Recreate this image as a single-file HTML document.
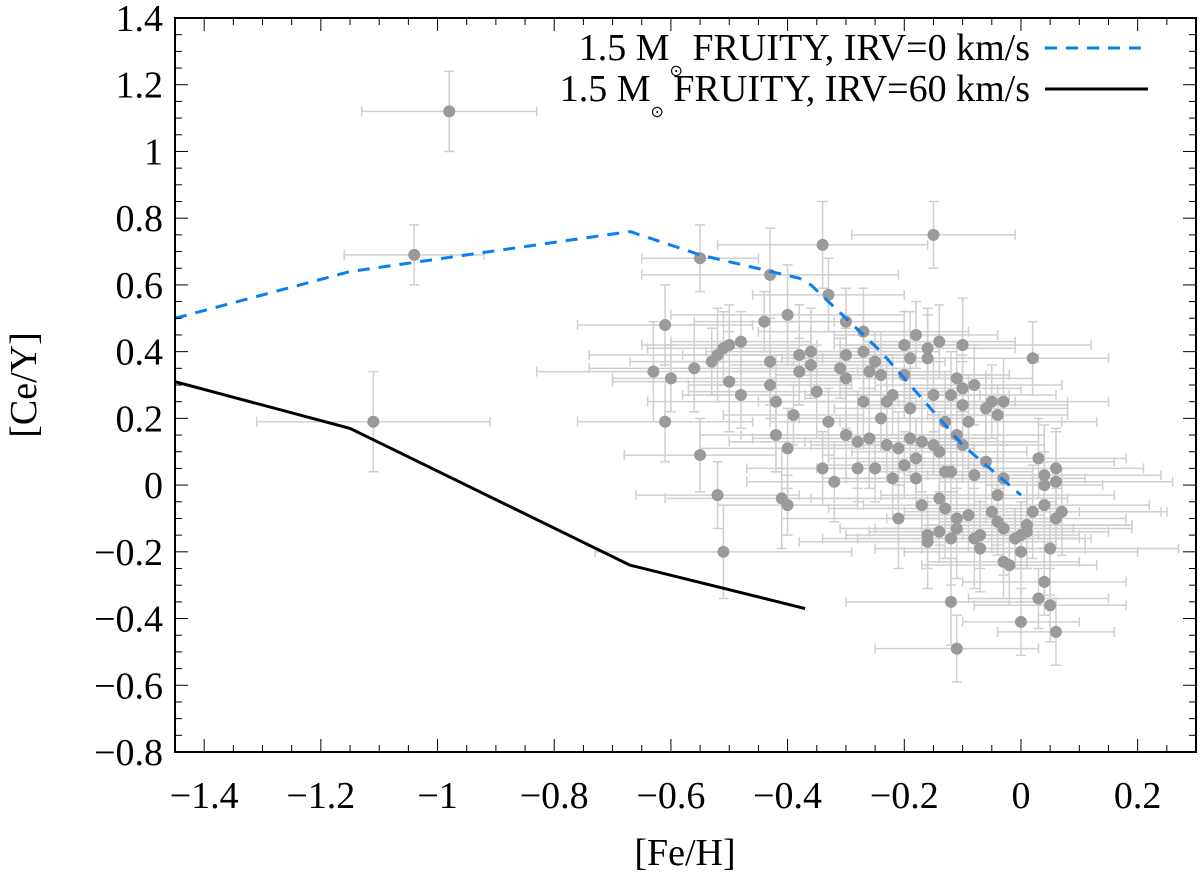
<!DOCTYPE html>
<html><head><meta charset="utf-8"><style>
html,body{margin:0;padding:0;background:#fff;}
svg{display:block;font-family:"Liberation Serif","Times New Roman",serif;}
</style></head><body>
<svg id="c" width="1200" height="875" xmlns="http://www.w3.org/2000/svg">
<g id="bars"></g>
<g id="pts"></g>
<g id="lines"></g>
<rect x="175" y="18" width="1021" height="734" fill="none" stroke="#000" stroke-width="2"/>
<g id="ticks"></g>
<text x="685" y="865" font-size="38" text-anchor="middle">[Fe/H]</text>
<text transform="translate(36,385) rotate(-90)" font-size="38" text-anchor="middle">[Ce/Y]</text>
<g>
<text x="1030" y="60" font-size="38" text-anchor="end">1.5 M<tspan font-size="16" dy="16">⊙</tspan><tspan dy="-16"> FRUITY, IRV=0 km/s</tspan></text>
<line x1="1045" y1="48" x2="1148" y2="48" stroke="#0a80f0" stroke-width="3" stroke-dasharray="12,9"/>
<text x="1030" y="101" font-size="38" text-anchor="end">1.5 M<tspan font-size="16" dy="16">⊙</tspan><tspan dy="-16"> FRUITY, IRV=60 km/s</tspan></text>
<line x1="1045" y1="89" x2="1148" y2="89" stroke="#000" stroke-width="3"/>
</g>
</svg>
<script>
const xTicks=[-1.4,-1.2,-1,-0.8,-0.6,-0.4,-0.2,0,0.2];
const xTickLabels=["−1.4","−1.2","−1","−0.8","−0.6","−0.4","−0.2","0","0.2"];
const yTicks=[-0.8,-0.6,-0.4,-0.2,0,0.2,0.4,0.6,0.8,1,1.2,1.4];
const yTickLabels=["−0.8","−0.6","−0.4","−0.2","0","0.2","0.4","0.6","0.8","1","1.2","1.4"];
const irv0Fe=[-1.45,-1.15,-0.67,-0.55,-0.38,-0.36,-0.24,-0.1,0];
const irv0Ce=[0.50,0.64,0.76,0.69,0.62,0.60,0.40,0.12,-0.03];
const irv60Fe=[-1.45,-1.15,-0.67,-0.37];
const irv60Ce=[0.31,0.17,-0.24,-0.37];
const starFe=[-0.98,-1.04,-1.11,-0.55,-0.34,-0.15,-0.43,-0.33,-0.61,-0.44,-0.40,-0.30,-0.27,-0.18,-0.10,-0.14,-0.16,-0.25,-0.63,-0.60,-0.56,-0.53,-0.52,-0.51,-0.50,-0.48,-0.50,-0.48,-0.43,-0.43,-0.42,-0.42,-0.40,-0.39,-0.38,-0.38,-0.36,-0.36,-0.35,-0.34,-0.32,-0.31,-0.30,-0.30,-0.30,-0.28,-0.28,-0.27,-0.27,-0.26,-0.26,-0.25,-0.24,-0.24,-0.23,-0.23,-0.22,-0.22,-0.21,-0.20,-0.20,-0.20,-0.19,-0.19,-0.19,-0.18,-0.17,-0.17,-0.16,-0.16,-0.16,-0.15,-0.14,-0.14,-0.13,-0.13,-0.12,-0.12,-0.12,-0.11,-0.11,-0.11,-0.11,-0.10,-0.10,-0.10,-0.09,-0.09,-0.08,-0.08,-0.08,-0.07,-0.07,-0.06,-0.06,-0.05,-0.05,-0.04,-0.04,-0.04,-0.03,-0.03,-0.03,-0.03,-0.02,-0.01,0.00,0.00,0.01,0.01,0.02,0.02,0.03,0.03,0.04,0.04,0.04,0.04,0.05,0.05,0.06,0.06,0.06,0.06,0.07,-0.52,-0.51,-0.55,-0.61,-0.40,-0.41,-0.33,-0.12,-0.11,-0.14,-0.21,-0.18,-0.15,-0.13,0.00,0.01];
const starCe=[1.12,0.69,0.19,0.68,0.72,0.75,0.63,0.57,0.48,0.49,0.51,0.49,0.46,0.45,0.42,0.43,0.41,0.37,0.34,0.32,0.35,0.37,0.39,0.41,0.42,0.43,0.31,0.27,0.37,0.30,0.25,0.15,0.11,0.21,0.39,0.34,0.40,0.36,0.28,0.05,0.01,0.35,0.32,0.39,0.15,0.05,0.13,0.40,0.25,0.34,0.14,0.05,0.33,0.20,0.25,0.12,0.27,0.02,-0.10,0.42,0.33,0.06,0.38,0.23,0.14,0.02,0.13,-0.06,0.38,-0.15,-0.17,0.27,0.10,-0.14,0.19,0.04,0.27,0.04,-0.16,0.32,0.15,-0.10,-0.13,0.29,0.24,0.12,0.19,-0.09,0.30,0.03,-0.16,-0.15,-0.19,0.23,0.07,0.25,-0.08,0.21,-0.03,-0.11,0.25,0.02,-0.13,-0.23,-0.24,-0.16,-0.20,-0.41,-0.12,-0.14,-0.08,0.38,0.08,-0.34,0.03,0.00,-0.06,-0.29,-0.19,-0.36,0.05,-0.10,0.01,-0.44,-0.08,-0.03,-0.20,0.09,0.19,-0.06,-0.04,0.19,-0.35,-0.49,-0.04,0.11,0.08,0.12,-0.07,-0.15,-0.12];
const xErrSet=[0.15,0.12,0.2,0.1,0.18,0.14,0.22,0.13];
const yErrSet=[0.12,0.1,0.14,0.09,0.13,0.11,0.15,0.1];
const X0=175,X1=1196,Y0=752,Y1=18,xmin=-1.45,xmax=0.3,ymin=-0.8,ymax=1.4;
const sx=v=>X0+(v-xmin)/(xmax-xmin)*(X1-X0);
const sy=v=>Y0-(v-ymin)/(ymax-ymin)*(Y0-Y1);
const NS="http://www.w3.org/2000/svg";
function mk(t,a,p){const e=document.createElementNS(NS,t);for(const k in a)e.setAttribute(k,a[k]);p.appendChild(e);return e;}
const ticks=document.getElementById('ticks');
for(let v=-1.45;v<=0.3001;v+=0.05){const x=sx(v);const major=Math.abs(Math.round(v*5)-v*5)<1e-6;const L=major?13:7;
const t1=mk('line',{x1:x,y1:Y0,x2:x,y2:Y0-L,stroke:'#000','stroke-width':1},ticks);


const t2=mk('line',{x1:x,y1:Y1,x2:x,y2:Y1+L,stroke:'#000','stroke-width':1},ticks);

}
for(let v=-0.8;v<=1.4001;v+=0.05){const y=sy(v);const major=Math.abs(Math.round(v*5)-v*5)<1e-6;const L=major?13:7;
const t1=mk('line',{x1:X0,y1:y,x2:X0+L,y2:y,stroke:'#000','stroke-width':1},ticks);


const t2=mk('line',{x1:X1,y1:y,x2:X1-L,y2:y,stroke:'#000','stroke-width':1},ticks);

}
xTicks.forEach((v,i)=>{const t=mk('text',{x:sx(v),y:808,'font-size':38,'text-anchor':'middle'},ticks);t.textContent=xTickLabels[i];

});
yTicks.forEach((v,i)=>{const t=mk('text',{x:163,y:sy(v)+13,'font-size':38,'text-anchor':'end'},ticks);t.textContent=yTickLabels[i];

});
const bars=document.getElementById('bars'),pts=document.getElementById('pts');
starFe.forEach((f,i)=>{const c=starCe[i],xe=xErrSet[i%8],ye=yErrSet[(i*3)%8];
const x=sx(f),y=sy(c),xa=sx(f-xe),xb=sx(f+xe),ya=sy(c+ye),yb=sy(c-ye);
const p=mk('path',{d:`M${xa},${y}H${xb}M${x},${ya}V${yb}M${xa},${y-5}V${y+5}M${xb},${y-5}V${y+5}M${x-5},${ya}H${x+5}M${x-5},${yb}H${x+5}`,stroke:'#cfcfcf','stroke-width':1.5,fill:'none'},bars);


const d=mk('circle',{cx:x,cy:y,r:6,fill:'#9a9a9a'},pts);

});
const lines=document.getElementById('lines');
const l0=mk('polyline',{points:irv0Fe.map((f,i)=>sx(f)+','+sy(irv0Ce[i])).join(' '),fill:'none',stroke:'#0a80f0','stroke-width':3,'stroke-dasharray':'12,9'},lines);


const l1=mk('polyline',{points:irv60Fe.map((f,i)=>sx(f)+','+sy(irv60Ce[i])).join(' '),fill:'none',stroke:'#000','stroke-width':3},lines);


</script>
</body></html>
